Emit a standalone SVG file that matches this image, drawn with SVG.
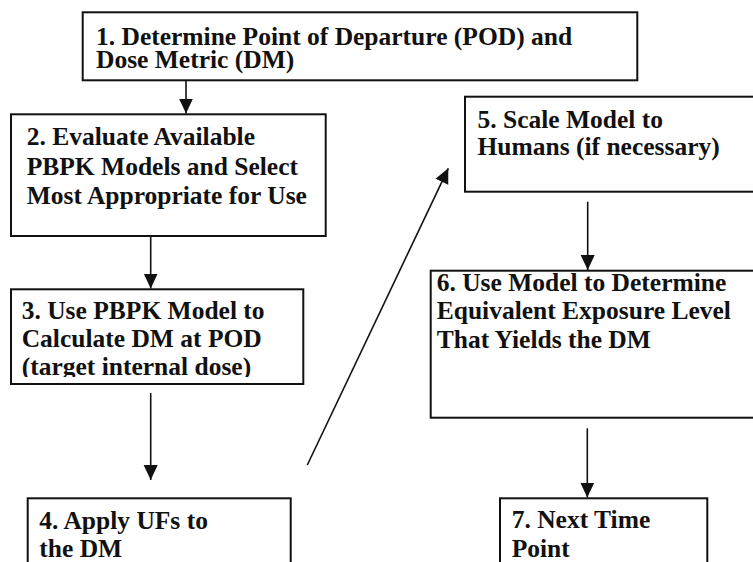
<svg xmlns="http://www.w3.org/2000/svg" width="753" height="562" viewBox="0 0 753 562">
<style>
.box{fill:#fff;stroke:#111;stroke-width:2}
.t{font-family:"Liberation Serif","Times New Roman",serif;font-weight:bold;font-size:25.5px;fill:#111}
.c{stroke:#111;stroke-width:1.6;fill:none}
</style>
<defs>
<marker id="ah" viewBox="0 0 10 10" refX="10" refY="5" markerUnits="userSpaceOnUse" markerWidth="15" markerHeight="15" orient="auto">
<path d="M0,0.3 L10,5 L0,9.7 Z" fill="#111"/>
</marker>
<clipPath id="clip3"><rect x="12" y="290" width="290" height="87"/></clipPath>
</defs>
<rect width="753" height="562" fill="#fff"/>
<g id="connectors">
<line class="c" x1="186" y1="81" x2="186" y2="113.5" marker-end="url(#ah)"/>
<line class="c" x1="150.7" y1="236" x2="150.7" y2="288.5" marker-end="url(#ah)"/>
<line class="c" x1="150.7" y1="393" x2="150.7" y2="480" marker-end="url(#ah)"/>
<line class="c" x1="307.3" y1="465" x2="448.3" y2="168.3" marker-end="url(#ah)"/>
<line class="c" x1="587.7" y1="201.7" x2="587.7" y2="270" marker-end="url(#ah)"/>
<line class="c" x1="587.3" y1="428.3" x2="587.3" y2="497.5" marker-end="url(#ah)"/>
</g>
<g id="node1">
<rect class="box" x="82.7" y="12.3" width="554.6" height="68"/>
<text class="t" x="96" y="44.5">1. Determine Point of Departure (POD) and</text>
<text class="t" x="96" y="67.5">Dose Metric (DM)</text>
</g>
<g id="node2">
<rect class="box" x="11" y="114.3" width="314.7" height="121.7"/>
<text class="t" x="26.7" y="145">2. Evaluate Available</text>
<text class="t" x="26.7" y="174.5">PBPK Models and Select</text>
<text class="t" x="26.7" y="204">Most Appropriate for Use</text>
</g>
<g id="node3">
<rect class="box" x="11" y="289.3" width="292.3" height="94.7"/>
<g clip-path="url(#clip3)">
<text class="t" x="21.7" y="318.5">3. Use PBPK Model to</text>
<text class="t" x="21.7" y="346.5">Calculate DM at POD</text>
<text class="t" x="21.7" y="374.5">(target internal dose)</text>
</g>
</g>
<g id="node4">
<rect class="box" x="27.7" y="498.3" width="263" height="80"/>
<text class="t" x="39.3" y="529">4. Apply UFs to</text>
<text class="t" x="39.3" y="556.5">the DM</text>
</g>
<g id="node5">
<rect class="box" x="465" y="96.7" width="300" height="95"/>
<text class="t" x="477.5" y="127.5">5. Scale Model to</text>
<text class="t" x="477.5" y="155">Humans (if necessary)</text>
</g>
<g id="node6">
<rect class="box" x="430.7" y="270.7" width="340" height="147"/>
<text class="t" x="436.7" y="290.5">6. Use Model to Determine</text>
<text class="t" x="436.7" y="319">Equivalent Exposure Level</text>
<text class="t" x="436.7" y="347.5">That Yields the DM</text>
</g>
<g id="node7">
<rect class="box" x="500" y="498.3" width="207.3" height="80"/>
<text class="t" x="511.7" y="528">7. Next Time</text>
<text class="t" x="511.7" y="556.5">Point</text>
</g>
</svg>
